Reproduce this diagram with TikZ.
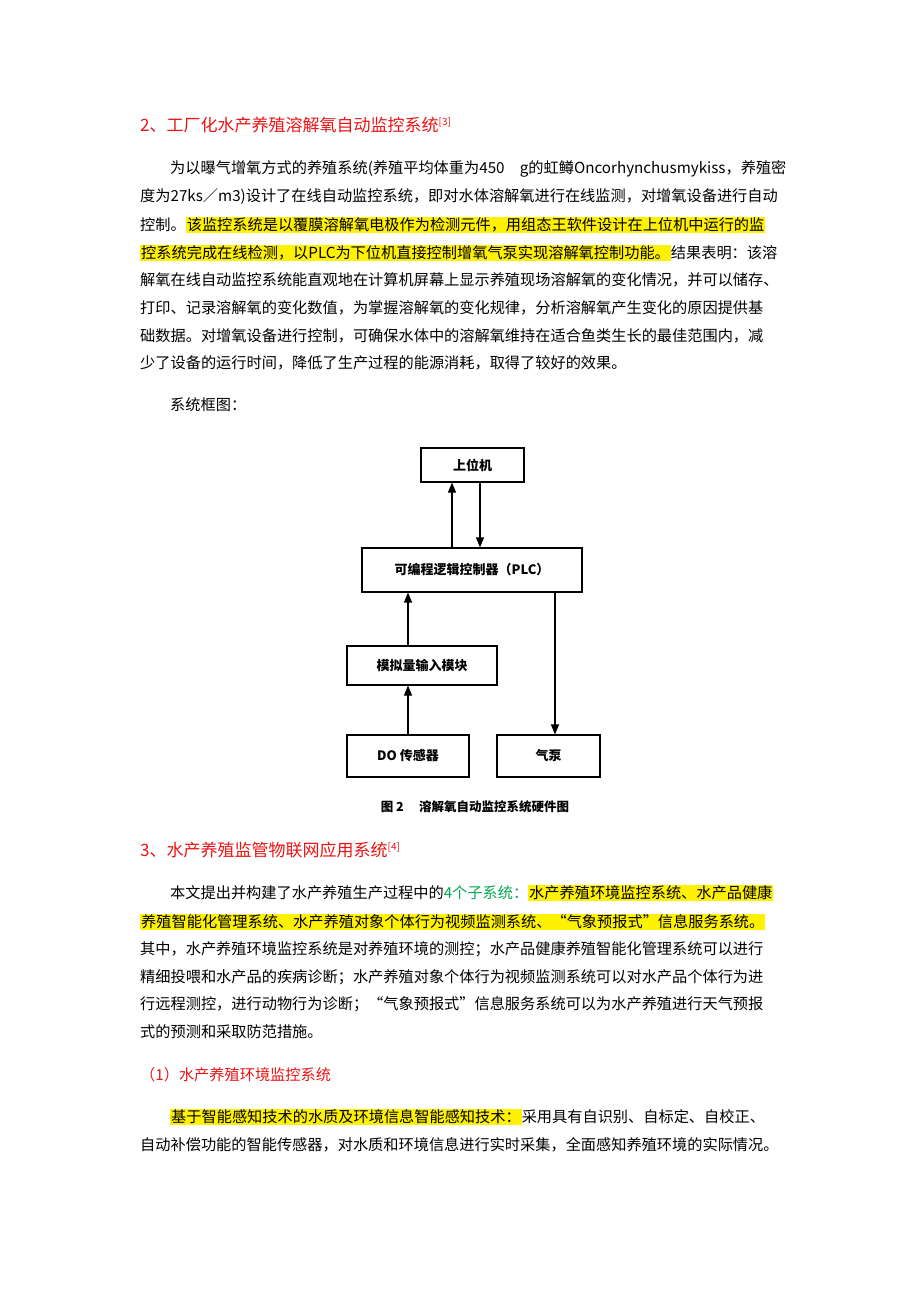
\documentclass[tikz,border=0pt]{standalone}
\usepackage{fontspec}
\usepackage{xcolor}
\usetikzlibrary{arrows.meta}
\newfontfamily\cjk{Noto Sans CJK SC}
\definecolor{hred}{RGB}{235,20,20}
\definecolor{hgreen}{RGB}{0,170,80}
\newcommand\hl[1]{{\setlength\fboxsep{1pt}\colorbox{yellow}{#1}}}
\begin{document}
\begin{tikzpicture}[x=1pt,y=-1pt,
  txt/.style={anchor=west,inner sep=0pt,font=\cjk\fontsize{15.2}{18}\selectfont},
  head/.style={anchor=west,inner sep=0pt,font=\cjk\fontsize{17}{20}\selectfont,text=hred},
  bx/.style={draw,line width=1.1pt,inner sep=0pt,font=\cjk\bfseries\fontsize{13}{15}\selectfont},
  arr/.style={line width=1.1pt,-{Triangle[length=10pt,width=8pt]}}]
\fill[white] (0,0) rectangle (920,1302);
\useasboundingbox (0,0) rectangle (920,1302);
\node[head] (h2) at (140,125) {2、工厂化水产养殖溶解氧自动监控系统\textsuperscript{\fontsize{10}{10}\selectfont[3]}};
\node[txt] (a1) at (170,169) {为以曝气增氧方式的养殖系统(养殖平均体重为450\quad g的虹鳟Oncorhynchusmykiss，养殖密};
\node[txt] (a2) at (140,197) {度为27ks／m3)设计了在线自动监控系统，即对水体溶解氧进行在线监测，对增氧设备进行自动};
\node[txt] (a3) at (140,225) {控制。\hl{该监控系统是以覆膜溶解氧电极作为检测元件，用组态王软件设计在上位机中运行的监}};
\node[txt] (a4) at (140,253) {\hl{控系统完成在线检测，以PLC为下位机直接控制增氧气泵实现溶解氧控制功能。}结果表明：该溶};
\node[txt] (a5) at (140,280) {解氧在线自动监控系统能直观地在计算机屏幕上显示养殖现场溶解氧的变化情况，并可以储存、};
\node[txt] (a6) at (140,308) {打印、记录溶解氧的变化数值，为掌握溶解氧的变化规律，分析溶解氧产生变化的原因提供基};
\node[txt] (a7) at (140,336) {础数据。对增氧设备进行控制，可确保水体中的溶解氧维持在适合鱼类生长的最佳范围内，减};
\node[txt] (a8) at (140,363) {少了设备的运行时间，降低了生产过程的能源消耗，取得了较好的效果。};
\node[txt] (kt) at (170,405) {系统框图：};
% diagram
\node[bx,minimum width=103pt,minimum height=34pt] (top) at (472.5,465) {上位机};
\node[bx,minimum width=220pt,minimum height=44pt] (plc) at (472,570) {可编程逻辑控制器（PLC）};
\node[bx,minimum width=150pt,minimum height=39pt] (mod) at (422,665.5) {模拟量输入模块};
\node[bx,minimum width=122pt,minimum height=42pt] (do) at (408,756) {DO 传感器};
\node[bx,minimum width=103pt,minimum height=42pt] (pump) at (548.5,756) {气泵};
\draw[arr] (plc.north -| 452,0) -- (top.south -| 452,0);
\draw[arr] (top.south -| 480,0) -- (plc.north -| 480,0);
\draw[arr] (mod.north -| 408,0) -- (plc.south -| 408,0);
\draw[arr] (do.north -| 408,0) -- (mod.south -| 408,0);
\draw[arr] (plc.south -| 555,0) -- (pump.north -| 555,0);
\node[inner sep=0pt,font=\cjk\bfseries\fontsize{12.5}{15}\selectfont] (cap) at (475,807) {图 2\quad\ 溶解氧自动监控系统硬件图};
% section 3
\node[head] (h3) at (140,850) {3、水产养殖监管物联网应用系统\textsuperscript{\fontsize{10}{10}\selectfont[4]}};
\node[txt] (b1) at (170,893) {本文提出并构建了水产养殖生产过程中的{\color{hgreen}4个子系统：}\hl{水产养殖环境监控系统、水产品健康}};
\node[txt] (b2) at (140,922) {\hl{养殖智能化管理系统、水产养殖对象个体行为视频监测系统、“气象预报式”信息服务系统。}};
\node[txt] (b3) at (140,949) {其中，水产养殖环境监控系统是对养殖环境的测控；水产品健康养殖智能化管理系统可以进行};
\node[txt] (b4) at (140,977) {精细投喂和水产品的疾病诊断；水产养殖对象个体行为视频监测系统可以对水产品个体行为进};
\node[txt] (b5) at (140,1004) {行远程测控，进行动物行为诊断；“气象预报式”信息服务系统可以为水产养殖进行天气预报};
\node[txt] (b6) at (140,1032) {式的预测和采取防范措施。};
\node[txt,text=hred] (s1) at (140,1075) {（1）水产养殖环境监控系统};
\node[txt] (c1) at (170,1117) {\hl{基于智能感知技术的水质及环境信息智能感知技术：}采用具有自识别、自标定、自校正、};
\node[txt] (c2) at (140,1145) {自动补偿功能的智能传感器，对水质和环境信息进行实时采集，全面感知养殖环境的实际情况。};
\end{tikzpicture}
\end{document}
